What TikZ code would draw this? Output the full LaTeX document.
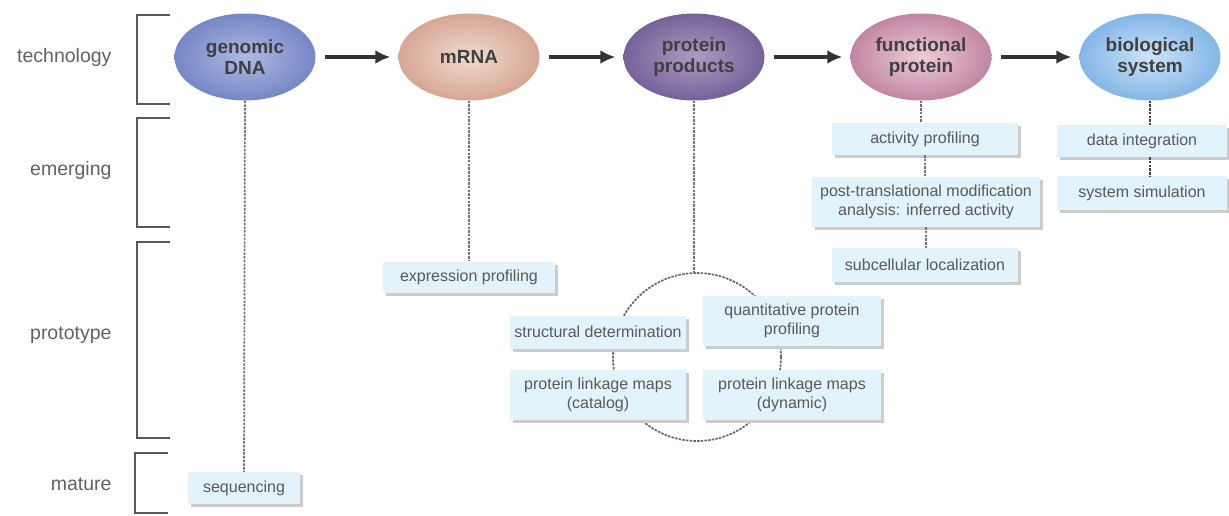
\documentclass[tikz,border=0pt]{standalone}
\usepackage{fontspec}
\setmainfont{Liberation Sans}
\usetikzlibrary{shapes.geometric,shadows,arrows.meta}

\definecolor{boxfill}{HTML}{E2F3FC}
\definecolor{dnain}{HTML}{AEB9E2}\definecolor{dnaout}{HTML}{7587C6}
\definecolor{rnain}{HTML}{F2DACD}\definecolor{rnaout}{HTML}{D5A794}
\definecolor{prodin}{HTML}{AC9CC0}\definecolor{prodout}{HTML}{75629A}
\definecolor{funcin}{HTML}{EDCCD9}\definecolor{funcout}{HTML}{C286A2}
\definecolor{bioin}{HTML}{CCE4F8}\definecolor{bioout}{HTML}{84B6E6}

\tikzset{
  stage/.style={ellipse, minimum width=141pt, minimum height=87pt, inner sep=0pt,
    align=center, font=\fontsize{19}{21}\selectfont\bfseries, text=black!75},
  method/.style={rectangle, fill=boxfill, align=center, inner sep=0pt,
    font=\fontsize{16}{19}\selectfont, text=black!65,
    drop shadow={shadow xshift=3pt, shadow yshift=-3pt, fill=black!20, opacity=1}},
  level/.style={anchor=east, font=\fontsize{19.5}{22}\selectfont, text=black!62},
  bracket/.style={line width=2.6pt, draw=black!65},
  link/.style={draw=black!55, line width=1.7pt, dash pattern=on 2.5pt off 1.2pt},
  flow/.style={->, draw=black!80, line width=3.2pt, shorten <=9pt, shorten >=8pt}
}

\begin{document}
\begin{tikzpicture}[x=1pt, y=-1pt, >={Latex[length=15pt,width=14pt]}]
\useasboundingbox (0,0) rectangle (1229,515);

% levels on the left
\node[level] (tech) at (115,57) {technology};
\node[level] (emer) at (115,170) {emerging};
\node[level] (proto) at (115,335) {prototype};
\node[level] (mat) at (115,484) {mature};
\draw[bracket] (170,15)--(137,15)--(137,104)--(170,104);
\draw[bracket] (170,118)--(137,118)--(137,227)--(170,227);
\draw[bracket] (170,242)--(137,242)--(137,438)--(170,438);
\draw[bracket] (168,453)--(135,453)--(135,513)--(168,513);

% main stages
\node[stage, inner color=dnain, outer color=dnaout] (gdna) at (245,57) {genomic\\DNA};
\node[stage, inner color=rnain, outer color=rnaout] (mrna) at (469,57) {mRNA};
\node[stage, inner color=prodin, outer color=prodout] (prod) at (694,57) {protein\\products};
\node[stage, inner color=funcin, outer color=funcout] (func) at (921,57) {functional\\protein};
\node[stage, inner color=bioin, outer color=bioout] (bio) at (1150,57) {biological\\system};

\draw[flow] (gdna) -- (mrna);
\draw[flow] (mrna) -- (prod);
\draw[flow] (prod) -- (func);
\draw[flow] (func) -- (bio);

% protein products: ring behind the four boxes
\coordinate (hub) at (697,273);
\draw[link, draw=black!60] (697,357) circle[radius=84pt];

% methods
\node[method, minimum width=112pt, minimum height=32pt] (seq) at (244,488) {sequencing};
\node[method, minimum width=172pt, minimum height=31pt] (expr) at (469,277) {expression profiling};
\node[method, minimum width=176pt, minimum height=33pt] (sdet) at (598,332) {structural determination};
\node[method, minimum width=176pt, minimum height=50pt] (cat) at (598,395) {protein linkage maps\\(catalog)};
\node[method, minimum width=178pt, minimum height=50pt] (quant) at (792,321) {quantitative protein\\profiling};
\node[method, minimum width=178pt, minimum height=50pt] (dyn) at (792,395) {protein linkage maps\\(dynamic)};
\node[method, minimum width=186pt, minimum height=32pt] (act) at (925,139) {activity profiling};
\node[method, minimum width=228pt, minimum height=50pt] (ptm) at (926,202) {post-translational modification\\analysis: inferred activity};
\node[method, minimum width=186pt, minimum height=34pt] (sub) at (925,265) {subcellular localization};
\node[method, minimum width=170pt, minimum height=32pt] (integ) at (1142,141) {data integration};
\node[method, minimum width=170pt, minimum height=34pt] (sim) at (1142,193) {system simulation};

% links down to the methods
\draw[link] (gdna.south) -- (seq.north);
\draw[link] (mrna.south) -- (expr.north);
\draw[link] (prod.south) -- (prod.south |- hub);
\draw[link] (func.south) -- (func.south |- act.north);
\draw[link] (act.south) -- (act.south |- ptm.north);
\draw[link] (ptm.south) -- (ptm.south |- sub.north);
\draw[link, draw=black!75] (bio.south) -- (bio.south |- integ.north);
\draw[link, draw=black!75] (bio.south |- integ.south) -- (bio.south |- sim.north);

\end{tikzpicture}
\end{document}
